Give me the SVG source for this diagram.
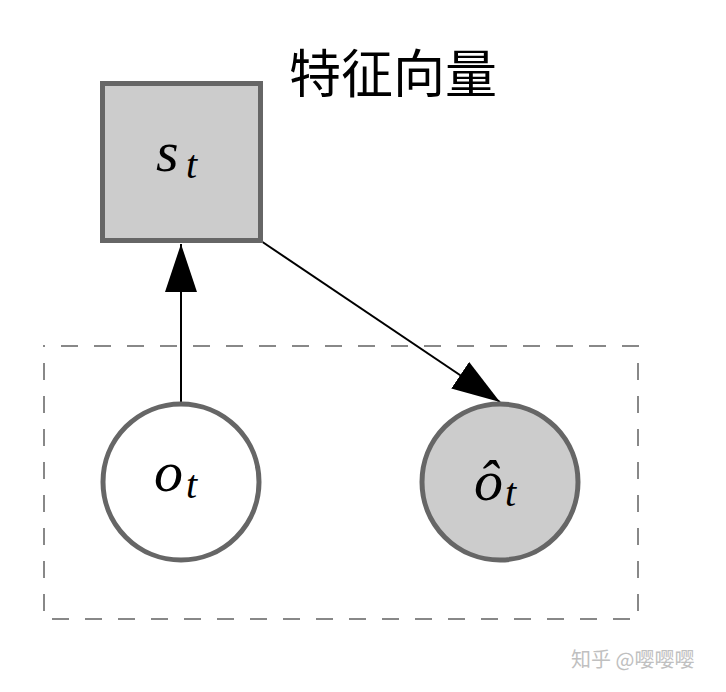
<svg xmlns="http://www.w3.org/2000/svg" width="726" height="692" viewBox="0 0 726 692">
<style>
.node{stroke:#666;stroke-width:5}
.math{font-family:"Liberation Serif","DejaVu Serif",serif;font-style:italic;fill:#000}
.base{font-size:58px}
.sub{font-size:40px}
.edge{stroke:#000;stroke-width:2;fill:none}
</style>
<defs>
<marker id="big" viewBox="0 0 48 32" refX="48" refY="16" markerWidth="48" markerHeight="32" markerUnits="userSpaceOnUse" orient="auto">
<path d="M0,0 L48,16 L0,32 z" fill="#000"/>
</marker>
</defs>
<rect width="726" height="692" fill="#fff"/>
<rect id="plate" x="44" y="346" width="594" height="273" fill="none" stroke="#888" stroke-width="2" stroke-dasharray="17 16" stroke-dashoffset="-17"/>
<g id="connectors">
<line class="edge" x1="181" y1="403" x2="181" y2="244" marker-end="url(#big)"/>
<line class="edge" x1="261" y1="241" x2="500" y2="402" marker-end="url(#big)"/>
</g>
<g id="s_t">
<rect class="node" x="102.5" y="83.5" width="158" height="157" fill="#ccc"/>
<text class="math base" x="156" y="171">s</text>
<text class="math sub" x="186" y="178">t</text>
</g>
<g id="o_t">
<circle class="node" cx="181" cy="482" r="78" fill="#fff"/>
<text class="math base" x="154" y="491">o</text>
<text class="math sub" x="186" y="498">t</text>
</g>
<g id="o_hat_t">
<circle class="node" cx="500" cy="482" r="78" fill="#ccc"/>
<text class="math base" x="474" y="500">ô</text>
<text class="math sub" x="505" y="506">t</text>
</g>
<text id="title" x="289" y="93" font-family="'Noto Sans CJK SC',sans-serif" font-size="52" fill="#000">特征向量</text>
<text id="watermark" x="571" y="667" font-family="'Noto Sans CJK SC',sans-serif" font-size="20" fill="#c0c0c0">知乎 @嘤嘤嘤</text>
</svg>
